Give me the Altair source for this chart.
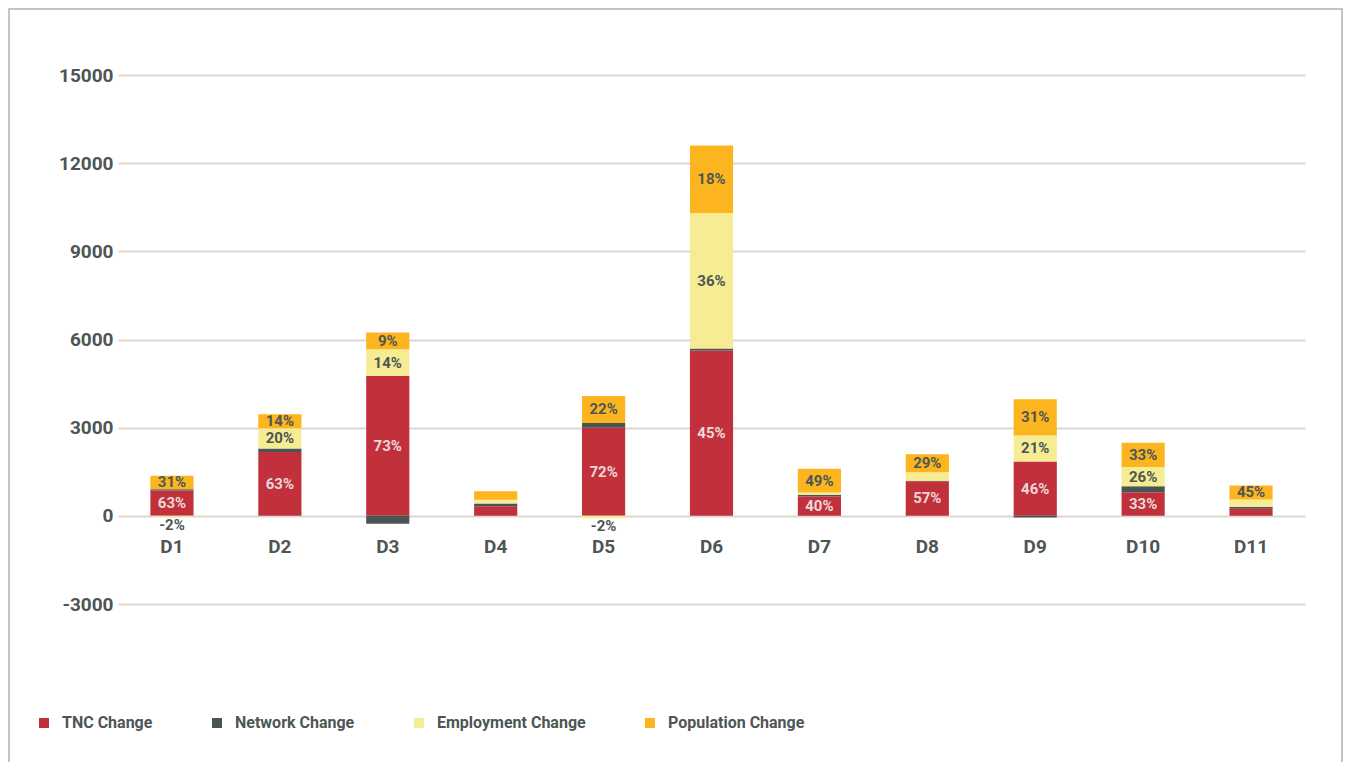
import altair as alt
import pandas as pd

districts = ["D1", "D2", "D3", "D4", "D5", "D6", "D7", "D8", "D9", "D10", "D11"]
series_names = ["TNC Change", "Network Change", "Employment Change", "Population Change"]
series_colors = ["#c1303b", "#4a5453", "#f5ec93", "#fdb51f"]

tnc = [860, 2170, 4755, 330, 3000, 5628, 660, 1180, 1851, 800, 245]
network = [45, 120, -272, 88, 160, 68, 60, 10, -60, 204, 55]
employment = [-30, 690, 917, 126, -85, 4606, 70, 296, 883, 656, 260]
population = [462, 480, 568, 296, 917, 2300, 815, 611, 1233, 829, 475]

tnc_labels = ["63%", "63%", "73%", "", "72%", "45%", "40%", "57%", "46%", "33%", ""]
network_labels = ["", "", "", "", "", "", "", "", "", "", ""]
employment_labels = ["-2%", "20%", "14%", "", "-2%", "36%", "", "", "21%", "26%", ""]
population_labels = ["31%", "14%", "9%", "", "22%", "18%", "49%", "29%", "31%", "33%", "45%"]

y_ticks = [-3000, 0, 3000, 6000, 9000, 12000, 15000]

rows = []
for s_i, (name, vals, labs) in enumerate(zip(
        series_names,
        [tnc, network, employment, population],
        [tnc_labels, network_labels, employment_labels, population_labels])):
    for d, v, l in zip(districts, vals, labs):
        rows.append({"district": d, "series": name, "value": v, "label": l, "order": s_i})
df = pd.DataFrame(rows)

W, H = 1187, 529
PAD_L, PAD_R, PAD_T, PAD_B = 110, 38, 67, 158
TXT = "#4d5655"

x_enc = alt.X("district:N", sort=districts,
              scale=alt.Scale(paddingInner=0.6, paddingOuter=0.3),
              axis=alt.Axis(title=None, labelAngle=0, ticks=False, domain=False,
                            labelFontSize=19, labelFontWeight="bold", labelColor=TXT,
                            labelPadding=21, offset=-88, grid=False))

y_scale = alt.Scale(domain=[-3000, 15000], nice=False, zero=False)

bars = alt.Chart(df).mark_bar().encode(
    x=x_enc,
    y=alt.Y("value:Q", stack="zero", scale=y_scale,
            axis=alt.Axis(title=None, values=y_ticks, ticks=False, domain=False,
                          labelExpr="datum.value < 0 ? '-' + abs(datum.value) : '' + datum.value",
                          grid=True, gridColor="#dcd5d0", gridWidth=2,
                          labelFontSize=19, labelFontWeight="bold", labelColor=TXT,
                          labelPadding=5)),
    color=alt.Color("series:N", scale=alt.Scale(domain=series_names, range=series_colors),
                    legend=alt.Legend(title=None, orient="none", legendX=-82, legendY=640,
                                      direction="horizontal", columns=4, symbolType="square",
                                      symbolSize=100, symbolStrokeWidth=0,
                                      labelFontSize=16, labelFontWeight="bold",
                                      labelColor=TXT, labelOffset=10, columnPadding=56)),
    order=alt.Order("order:Q"),
)

stacked = alt.Chart(df).transform_stack(
    stack="value", groupby=["district"], as_=["y0", "y1"],
    sort=[alt.SortField("order", order="ascending")]
).transform_filter(alt.datum.label != "")

pos_labels = stacked.transform_filter(alt.datum.value > 0).transform_calculate(
    mid="(datum.y0 + datum.y1) / 2"
).mark_text(fontSize=15, fontWeight="bold", baseline="middle").encode(
    x=alt.X("district:N", sort=districts),
    y=alt.Y("mid:Q", scale=y_scale),
    text="label:N",
    color=alt.condition(alt.datum.series == "TNC Change", alt.value("#ead9d9"), alt.value(TXT)),
)

neg_labels = stacked.transform_filter(alt.datum.value < 0).transform_calculate(
    bot="min(datum.y0, datum.y1)"
).mark_text(fontSize=15, fontWeight="bold", baseline="middle", dy=8).encode(
    x=alt.X("district:N", sort=districts),
    y=alt.Y("bot:Q", scale=y_scale),
    text="label:N",
    color=alt.value(TXT),
)

border = alt.Chart(pd.DataFrame({"a": [0]})).mark_rect(
    fillOpacity=0, stroke="#c4c4c4", strokeWidth=2
).encode(
    x=alt.value(-PAD_L + 1), x2=alt.value(W + PAD_R - 1),
    y=alt.value(-PAD_T + 1), y2=alt.value(H + PAD_B + 50),
)

chart = alt.layer(bars, pos_labels, neg_labels, border).properties(
    width=W, height=H,
    autosize=alt.AutoSizeParams(type="none"),
    padding={"left": PAD_L, "right": PAD_R, "top": PAD_T, "bottom": PAD_B},
).configure(font="Roboto").configure_view(strokeWidth=0)

chart.save("out.html", embed_options={"renderer": "svg", "actions": False})
